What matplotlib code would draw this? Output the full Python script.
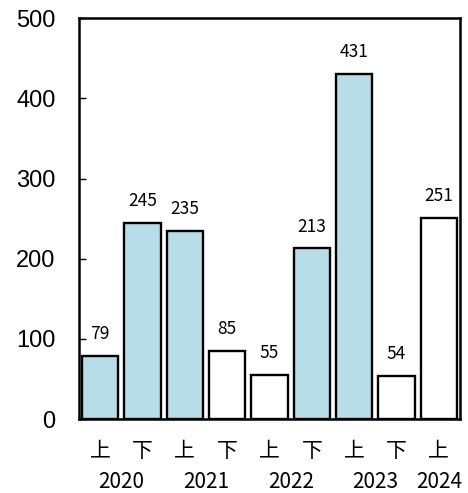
import matplotlib.pyplot as plt
import matplotlib.transforms as mtransforms

halves = ["上", "下", "上", "下", "上", "下", "上", "下", "上"]
values = [79, 245, 235, 85, 55, 213, 431, 54, 251]
filled = [True, True, True, False, False, True, True, False, False]
years = ["2020", "2021", "2022", "2023", "2024"]
year_pos = [0.5, 2.5, 4.5, 6.5, 8]

plt.rcParams['font.family'] = ['Noto Sans CJK JP', 'DejaVu Sans']

fig = plt.figure(figsize=(4.68, 4.93), dpi=100)
ax = fig.add_axes([0.169, 0.150, 0.814, 0.813])

colors = ["#b7dde8" if f else "white" for f in filled]
x = list(range(len(values)))
ax.bar(x, values, width=0.86, color=colors, edgecolor="black", linewidth=1.7)

for xi, v in zip(x, values):
    ax.annotate(str(v), (xi, v), xytext=(0, 9), textcoords="offset points",
                ha="center", va="bottom", fontsize=12.5)

ax.set_xlim(-0.5, 8.5)
ax.set_ylim(0, 500)
ax.set_yticks([0, 100, 200, 300, 400, 500])
ax.set_yticklabels(["0", "100", "200", "300", "400", "500"],
                   family=["Liberation Sans", "DejaVu Sans"], fontsize=17)
ax.tick_params(axis="y", direction="in", length=5, width=1, pad=17)
ax.set_xticks(x)
ax.set_xticklabels(halves, fontsize=15)
ax.tick_params(axis="x", length=0, pad=15)

trans = mtransforms.blended_transform_factory(ax.transData, ax.transAxes)
for yp, yl in zip(year_pos, years):
    ax.text(yp, -0.157, yl, transform=trans, ha="center", va="center", fontsize=15)

for s in ax.spines.values():
    s.set_linewidth(1.8)

fig.savefig("out.png", dpi=100)
